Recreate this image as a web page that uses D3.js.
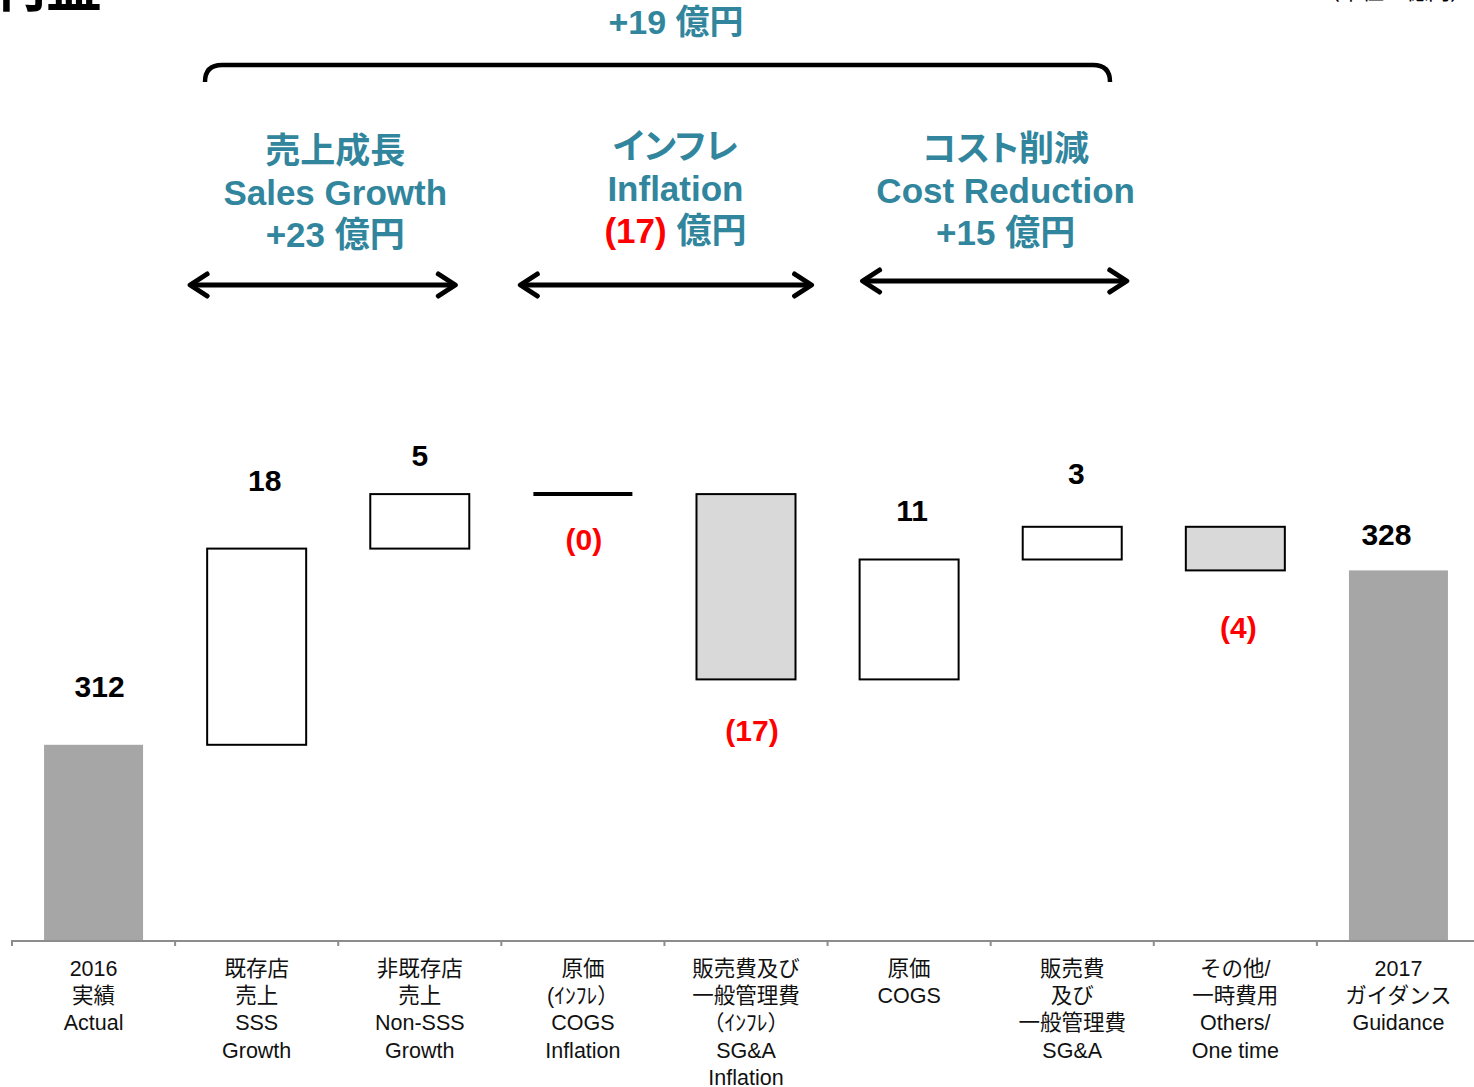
<!DOCTYPE html>
<html>
<head>
<meta charset="utf-8">
<script src="https://cdn.jsdelivr.net/npm/d3@7"></script>
<style>
  body { margin: 0; background: #fff; }
  svg { display: block; }
  .kana { font-feature-settings: "palt"; }
</style>
</head>
<body>
<svg id="chart" width="1474" height="1087"></svg>
<script>
// ---- data ----
const categories = ["actual2016", "sss", "nonSss", "cogsInflation", "sgaInflation", "cogs", "sga", "others", "guidance2017"];
const categoryLines = [
  ["2016", "実績", "Actual"],
  ["既存店", "売上", "SSS", "Growth"],
  ["非既存店", "売上", "Non-SSS", "Growth"],
  ["原価", "(ｲﾝﾌﾚ）", "COGS", "Inflation"],
  ["販売費及び", "一般管理費", "（ｲﾝﾌﾚ）", "SG&A", "Inflation"],
  ["原価", "COGS"],
  ["販売費", "及び", "一般管理費", "SG&A"],
  ["その他/", "一時費用", "Others/", "One time"],
  ["2017", "ガイダンス", "Guidance"]
];
const values = [312, 18, 5, 0, -17, 11, 3, -4, 328];
const kinds = ["total", "up", "up", "down", "down", "up", "up", "down", "total"];
const valueLabels = ["312", "18", "5", "(0)", "(17)", "11", "3", "(4)", "328"];

// bracketed groups above the bars
const groupJp = ["売上成長", "インフレ", "コスト削減"];
const groupEn = ["Sales Growth", "Inflation", "Cost Reduction"];
const groupAmounts = ["+23", "(17)", "+15"];
const groupNegative = [false, true, false];
const groupFirst = ["sss", "cogsInflation", "cogs"];
const groupLast = ["nonSss", "sgaInflation", "sga"];
const totalChange = "+19";

// ---- layout ----
const svg = d3.select("#chart");
const W = 1474;
const teal = "#31869e";
const red = "#ff0000";
const latin = "'Liberation Sans', Arial, 'Noto Sans CJK JP', sans-serif";

// small nudges for the value labels (px)
const labelNudgeY = [-9, -18, 11, -5, 1, 1, -4, 7, 14];
const labelNudgeX = [6, 8, 0, 1, 6, 3, 4, 3, -12];
// arrow insets from the group edges [left, right] and title offsets (px)
const arrowInset = [[15, 46], [19, 16], [35, 27]];
const titleShift = [-3, 11, 15];

const x = d3.scaleBand()
  .domain(categories)
  .range([12, 1480])
  .paddingInner(0.393)
  .paddingOuter(0.1965);
const step = x.step();

const y = d3.scaleLinear()
  .domain([294, 340])
  .range([941, 941 - 46 * 10.9]);

// waterfall geometry
let running = 0;
const bars = categories.map((c, i) => {
  let lo, hi;
  if (kinds[i] === "total") {
    lo = y.domain()[0]; hi = values[i]; running = values[i];
  } else {
    const start = running;
    running += values[i];
    lo = Math.min(start, running); hi = Math.max(start, running);
  }
  return { key: c, i, lo, hi, kind: kinds[i], value: values[i] };
});

// ---- title fragments at the top edge ----
svg.append("text")
  .attr("x", 102).attr("y", 6)
  .attr("text-anchor", "end")
  .attr("font-family", "'Noto Sans CJK JP', sans-serif")
  .attr("font-weight", 700)
  .attr("font-size", 56)
  .attr("fill", "#000")
  .text("営業利益");

svg.append("text")
  .attr("x", 1472).attr("y", -1)
  .attr("text-anchor", "end")
  .attr("font-family", "'Noto Sans CJK JP', sans-serif")
  .attr("font-size", 22)
  .attr("fill", "#000")
  .text("（単位：億円）");

// ---- bars ----
const barG = svg.append("g");
bars.forEach(b => {
  const x0 = x(b.key);
  const top = y(b.hi), bottom = y(b.lo);
  if (b.kind === "total") {
    barG.append("rect")
      .attr("x", x0).attr("y", top)
      .attr("width", x.bandwidth()).attr("height", bottom - top)
      .attr("fill", "#a6a6a6");
  } else if (bottom - top < 1) {
    barG.append("line")
      .attr("x1", x0).attr("x2", x0 + x.bandwidth())
      .attr("y1", top).attr("y2", top)
      .attr("stroke", "#000").attr("stroke-width", 4);
  } else {
    barG.append("rect")
      .attr("x", x0).attr("y", top)
      .attr("width", x.bandwidth()).attr("height", bottom - top)
      .attr("fill", b.kind === "down" ? "#d9d9d9" : "#ffffff")
      .attr("stroke", "#000").attr("stroke-width", 2);
  }
});

// ---- value labels ----
bars.forEach((b, i) => {
  const cx = x(b.key) + x.bandwidth() / 2;
  const neg = b.kind === "down";
  const cy = neg ? y(b.lo) + 50 : y(b.hi) - 50;
  svg.append("text")
    .attr("x", cx + labelNudgeX[i]).attr("y", cy + labelNudgeY[i])
    .attr("dy", "0.36em")
    .attr("text-anchor", "middle")
    .attr("font-family", latin)
    .attr("font-weight", 700)
    .attr("font-size", 30)
    .attr("fill", neg ? red : "#000")
    .text(valueLabels[i]);
});

// ---- category axis ----
const axisY = y.range()[0];
const axisG = svg.append("g");
axisG.append("line")
  .attr("x1", 11).attr("x2", W)
  .attr("y1", axisY).attr("y2", axisY)
  .attr("stroke", "#8c8c8c").attr("stroke-width", 2);
d3.range(categories.length + 1).forEach(k => {
  const tx = x.range()[0] + k * step;
  axisG.append("line")
    .attr("x1", tx).attr("x2", tx)
    .attr("y1", axisY).attr("y2", axisY + 5)
    .attr("stroke", "#8c8c8c").attr("stroke-width", 2);
});

categories.forEach((c, i) => {
  const t = svg.append("text")
    .attr("text-anchor", "middle")
    .attr("font-family", latin)
    .attr("font-size", 21.5)
    .attr("fill", "#111");
  categoryLines[i].forEach((line, j) => {
    t.append("tspan")
      .attr("x", x(c) + x.bandwidth() / 2)
      .attr("y", axisY + 35 + j * 27.2)
      .text(line);
  });
});

// ---- group annotations ----
function arrowHead(g, px, py, dir) {
  g.append("path")
    .attr("d", `M${px - dir * 17},${py - 11} L${px},${py} L${px - dir * 17},${py + 11}`)
    .attr("fill", "none").attr("stroke", "#000")
    .attr("stroke-width", 5).attr("stroke-linecap", "round").attr("stroke-linejoin", "round");
}

const annG = svg.append("g");
groupJp.forEach((jp, i) => {
  const left = x(groupFirst[i]) - x.step() * x.paddingInner() / 2;
  const right = x(groupLast[i]) + x.bandwidth() + x.step() * x.paddingInner() / 2;
  const cx = (left + right) / 2 + titleShift[i];
  const ax0 = left + arrowInset[i][0], ax1 = right - arrowInset[i][1];
  const ay = i === 2 ? 281 : 285;
  annG.append("line")
    .attr("x1", ax0 + 2).attr("x2", ax1 - 2)
    .attr("y1", ay).attr("y2", ay)
    .attr("stroke", "#000").attr("stroke-width", 5);
  arrowHead(annG, ax0, ay, -1);
  arrowHead(annG, ax1, ay, 1);

  const ty = i === 1 ? -3 : (i === 2 ? -1 : 1);
  const t = annG.append("text")
    .attr("text-anchor", "middle")
    .attr("font-family", latin)
    .attr("font-weight", 700)
    .attr("font-size", 35)
    .attr("fill", teal);
  t.append("tspan").attr("x", cx).attr("y", 149 + ty).attr("dy", "0.36em")
    .attr("class", i === 0 ? null : "kana")
    .text(jp);
  t.append("tspan").attr("x", cx).attr("y", 191 + ty).attr("dy", "0.36em").text(groupEn[i]);
  const last = t.append("tspan").attr("x", cx).attr("y", 233 + ty).attr("dy", "0.36em");
  last.append("tspan").attr("fill", groupNegative[i] ? red : teal).text(groupAmounts[i]);
  last.append("tspan").attr("fill", teal).text(" 億円");
});

// ---- overall brace ----
const bLeft = 205, bRight = 1110, bTop = 65, bDrop = 17;
annG.append("path")
  .attr("d", `M${bLeft},${bTop + bDrop} Q${bLeft},${bTop} ${bLeft + bDrop},${bTop} L${bRight - bDrop},${bTop} Q${bRight},${bTop} ${bRight},${bTop + bDrop}`)
  .attr("fill", "none").attr("stroke", "#000").attr("stroke-width", 4.5);

annG.append("text")
  .attr("x", 676).attr("y", 22).attr("dy", "0.36em")
  .attr("text-anchor", "middle")
  .attr("font-family", latin)
  .attr("font-weight", 700)
  .attr("font-size", 34)
  .attr("fill", teal)
  .text(totalChange + " 億円");
</script>
</body>
</html>
